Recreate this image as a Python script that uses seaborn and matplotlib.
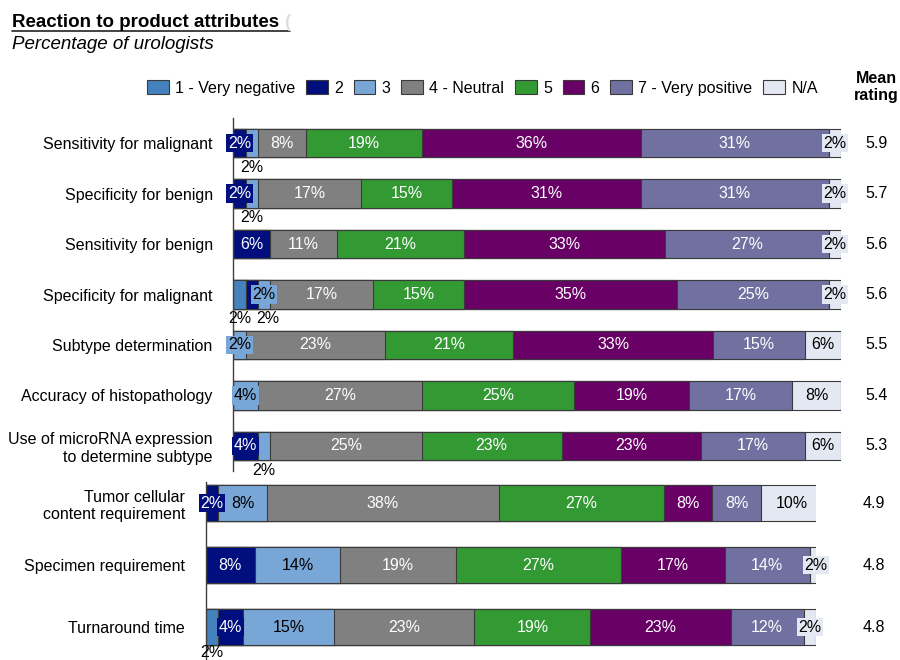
import pandas as pd
import matplotlib.pyplot as plt
import matplotlib.transforms as mtransforms
from matplotlib.patches import Patch
from matplotlib.lines import Line2D
import seaborn as sns

ATTRIBUTES = [
    "Sensitivity for malignant",
    "Specificity for benign",
    "Sensitivity for benign",
    "Specificity for malignant",
    "Subtype determination",
    "Accuracy of histopathology",
    "Use of microRNA expression\nto determine subtype",
    "Tumor cellular\ncontent requirement",
    "Specimen requirement",
    "Turnaround time",
]
RATINGS = ["1 - Very negative", "2", "3", "4 - Neutral", "5", "6", "7 - Very positive", "N/A"]

# percentage of urologists giving each rating, one value per attribute
VERY_NEG = [0, 0, 0, 2, 0, 0, 0, 0, 0, 2]
R2 = [2, 2, 6, 2, 0, 0, 4, 2, 8, 4]
R3 = [2, 2, 0, 2, 2, 4, 2, 8, 14, 15]
NEUTRAL = [8, 17, 11, 17, 23, 27, 25, 38, 19, 23]
R5 = [19, 15, 21, 15, 21, 25, 23, 27, 27, 19]
R6 = [36, 31, 33, 35, 33, 19, 23, 8, 17, 23]
VERY_POS = [31, 31, 27, 25, 15, 17, 17, 8, 14, 12]
NA = [2, 2, 2, 2, 6, 8, 6, 10, 2, 2]
MEAN_RATING = [5.9, 5.7, 5.6, 5.6, 5.5, 5.4, 5.3, 4.9, 4.8, 4.8]

COLORS = ["#4581bd", "#000e7e", "#78a6d6", "#808080", "#339933", "#680066", "#7171a1", "#e4e8f2"]
TEXT_COLORS = ["white", "white", "black", "white", "white", "white", "white", "black"]
EDGE = "#3a3a3a"

# small segments whose label sits under the bar instead of in a box
BELOW = {0: [2], 1: [2], 3: [0, 1], 6: [2], 9: [0]}

sns.set_style("white")
plt.rcParams["font.family"] = ["Liberation Sans", "DejaVu Sans"]
plt.rcParams["text.color"] = "black"
plt.rcParams["ytick.color"] = "black"

df = pd.DataFrame(
    dict(zip(RATINGS, [VERY_NEG, R2, R3, NEUTRAL, R5, R6, VERY_POS, NA])),
    index=ATTRIBUTES,
)

W, H = 900, 660
fig = plt.figure(figsize=(9, 6.6), dpi=100)


def px_box(left, top, right, bottom):
    return [left / W, 1 - bottom / H, (right - left) / W, (bottom - top) / H]


def draw_block(ax, rows, xmax, mean_x, below_off):
    sub = df.iloc[rows]
    cum = sub.cumsum(axis=1)
    names = list(sub.index)
    # stacked bars: draw cumulative totals from the longest down
    for rating, color in reversed(list(zip(RATINGS, COLORS))):
        sns.barplot(x=cum[rating].values, y=names, order=names, orient="h",
                    color=color, saturation=1, width=0.57, edgecolor=EDGE,
                    linewidth=0.8, errorbar=None, ax=ax)

    for i, name in enumerate(names):
        row = rows[i]
        prev_below = None
        start = 0
        for j, rating in enumerate(RATINGS):
            v = sub.loc[name, rating]
            if v <= 0:
                continue
            cx = start + v / 2
            start += v
            label = f"{v}%"
            if v >= 5:
                ax.text(cx, i, label, ha="center", va="center", fontsize=11.5,
                        color=TEXT_COLORS[j], zorder=5)
            elif j in BELOW.get(row, []):
                bx = cx if prev_below is None else max(cx, prev_below + 4.6)
                prev_below = bx
                ax.annotate(label, xy=(bx, i + 0.285), xytext=(0, below_off),
                            textcoords="offset points", ha="center", va="center",
                            fontsize=11.5, color="black", annotation_clip=False)
            else:
                ax.text(cx, i, label, ha="center", va="center", fontsize=11.5,
                        color=TEXT_COLORS[j], zorder=6,
                        bbox=dict(boxstyle="square,pad=0.1", facecolor=COLORS[j],
                                  edgecolor="none"))

    trans = mtransforms.blended_transform_factory(fig.transFigure, ax.transData)
    for i, m in enumerate(MEAN_RATING[rows[0]:rows[-1] + 1]):
        ax.text(mean_x / W, i, f"{m:.1f}", transform=trans, ha="center",
                va="center", fontsize=11.5, color="black")

    ax.set_xlim(0, xmax)
    ax.set_xticks([])
    ax.set_xlabel("")
    ax.set_ylabel("")
    ax.tick_params(axis="y", length=0, pad=15, labelsize=11.5, labelcolor="black")
    for lab in ax.get_yticklabels():
        lab.set_multialignment("right")
    for side in ["top", "right", "bottom"]:
        ax.spines[side].set_visible(False)
    ax.spines["left"].set_color("#404040")
    ax.spines["left"].set_linewidth(1)
    ax.patch.set_alpha(0)


ax_top = fig.add_axes(px_box(233.5, 117.8, 841, 471.2))
draw_block(ax_top, list(range(0, 7)), 100, 876.5, -7)
ax_top.set_ylim(6.5, -0.5)

ax_bot = fig.add_axes(px_box(206, 482, 816, 660))
draw_block(ax_bot, [7, 8, 9], 100, 873.5, -5.5)
ax_bot.set_ylim(2.53, -0.34)

# title block
fig.text(12 / W, 1 - 27 / H, "Reaction to product attributes",
         fontsize=13.5, fontweight="bold", va="baseline")
fig.add_artist(Line2D([12 / W, 290 / W], [1 - 30.5 / H, 1 - 30.5 / H],
                      color="#222222", lw=1.2))
fig.text(284 / W, 1 - 27 / H, "(", fontsize=13.5, fontweight="bold",
         va="baseline", color="#dedede")
fig.text(12 / W, 1 - 49 / H, "Percentage of urologists", fontsize=13.5,
         style="italic", va="baseline")

handles = [Patch(facecolor=c, edgecolor=EDGE, linewidth=0.8) for c in COLORS]
fig.legend(handles, RATINGS, loc="center left", bbox_to_anchor=(147 / W, 1 - 88 / H),
           ncol=8, frameon=False, fontsize=11.5, handlelength=1.35, handleheight=1.0,
           handletextpad=0.4, columnspacing=0.68, borderpad=0, borderaxespad=0)
fig.text(876.5 / W, 1 - 87 / H, "Mean\nrating", fontsize=11.5, fontweight="bold",
         ha="center", va="center", linespacing=1.15)

fig.savefig("out.png", dpi=100)
